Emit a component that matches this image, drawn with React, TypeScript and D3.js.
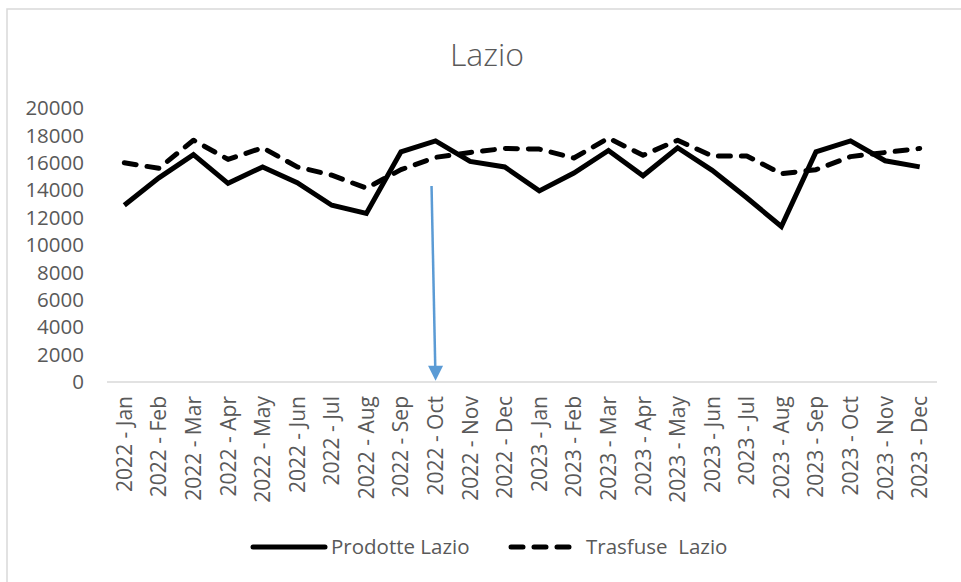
import React, { useEffect, useRef } from 'react';
import * as d3 from 'd3';

// categories (year - month)
const months = ['Jan', 'Feb', 'Mar', 'Apr', 'May', 'Jun', 'Jul', 'Aug', 'Sep', 'Oct', 'Nov', 'Dec'];
const categories = [
  ...months.map(m => `2022 - ${m}`),
  ...months.map(m => `2023 - ${m}`),
];

// Prodotte Lazio (solid)
const prodotte = [
  12900, 14900, 16600, 14500, 15700, 14550, 12900, 12300, 16800, 17600, 16100, 15700,
  13950, 15250, 16900, 15050, 17100, 15450, 13450, 11350, 16800, 17600, 16150, 15700,
];

// Trasfuse Lazio (dashed)
const trasfuse = [
  16000, 15600, 17650, 16250, 17100, 15700, 15100, 14150, 15500, 16400, 16750, 17050,
  17000, 16350, 17800, 16550, 17650, 16500, 16500, 15200, 15500, 16450, 16750, 17050,
];

const yTicks = [0, 2000, 4000, 6000, 8000, 10000, 12000, 14000, 16000, 18000, 20000];

// blue annotation arrow: points at 2022 - Oct
const arrowCategory = '2022 - Oct';
const arrowFrom = 14300;
const arrowTo = 100;

const App = () => {
  const ref = useRef<SVGSVGElement | null>(null);

  useEffect(() => {
    if (!ref.current) return;
    const svg = d3.select(ref.current);
    svg.selectAll('*').remove();

    const width = 961, height = 582;
    const font = "'Open Sans', sans-serif";
    const textColor = '#595959';

    const x = d3.scaleBand().domain(categories).range([107, 937]);
    const y = d3.scaleLinear().domain([0, 20000]).range([382, 108]);
    const cx = (c: string) => (x(c) as number) + x.bandwidth() / 2;

    svg.attr('width', width).attr('height', height);

    // chart frame
    svg.append('rect')
      .attr('x', 7).attr('y', 9)
      .attr('width', width).attr('height', height)
      .attr('fill', '#fff')
      .attr('stroke', '#d9d9d9').attr('stroke-width', 1.5);

    // title
    svg.append('text')
      .attr('x', 487).attr('y', 66)
      .attr('text-anchor', 'middle')
      .attr('font-family', font).attr('font-size', 32).attr('font-weight', 300)
      .attr('fill', textColor)
      .text('Lazio');

    // y axis labels
    svg.append('g')
      .selectAll('text')
      .data(yTicks)
      .enter()
      .append('text')
      .attr('x', 84)
      .attr('y', d => y(d))
      .attr('dy', '0.35em')
      .attr('text-anchor', 'end')
      .attr('font-family', font).attr('font-size', 20.5)
      .attr('fill', textColor)
      .text(d => d);

    // x axis line
    svg.append('line')
      .attr('x1', 107).attr('x2', 937)
      .attr('y1', y(0)).attr('y2', y(0))
      .attr('stroke', '#d9d9d9').attr('stroke-width', 1.5);

    // x labels, rotated
    svg.append('g')
      .selectAll('text')
      .data(categories)
      .enter()
      .append('text')
      .attr('transform', d => `translate(${cx(d) + 7.5},396) rotate(-90)`)
      .attr('text-anchor', 'end')
      .attr('font-family', font).attr('font-size', 21)
      .attr('fill', textColor)
      .text(d => d);

    const line = d3.line<number>()
      .x((_, i) => cx(categories[i]))
      .y(d => y(d));

    svg.append('path')
      .datum(trasfuse)
      .attr('d', line)
      .attr('fill', 'none')
      .attr('stroke', '#000').attr('stroke-width', 5)
      .attr('stroke-dasharray', '12 11')
      .attr('stroke-linecap', 'round')
      .attr('stroke-linejoin', 'round');

    svg.append('path')
      .datum(prodotte)
      .attr('d', line)
      .attr('fill', 'none')
      .attr('stroke', '#000').attr('stroke-width', 5)
      .attr('stroke-linejoin', 'miter');

    // arrow annotation
    const ax = cx(arrowCategory);
    svg.append('line')
      .attr('x1', ax - 4).attr('y1', y(arrowFrom))
      .attr('x2', ax - 0.3).attr('y2', y(arrowTo) - 14)
      .attr('stroke', '#5b9bd5').attr('stroke-width', 2.5);
    svg.append('path')
      .attr('d', `M${ax - 7.5},${y(arrowTo) - 15} L${ax + 7.5},${y(arrowTo) - 15} L${ax},${y(arrowTo)} Z`)
      .attr('fill', '#5b9bd5');

    // legend
    const legend = [
      { label: 'Prodotte Lazio', x1: 253, x2: 325, tx: 331, dash: null },
      { label: 'Trasfuse  Lazio', x1: 511, x2: 574, tx: 586, dash: '12 11' },
    ];
    const lg = svg.append('g');
    legend.forEach(l => {
      lg.append('line')
        .attr('x1', l.x1).attr('x2', l.x2)
        .attr('y1', 547).attr('y2', 547)
        .attr('stroke', '#000').attr('stroke-width', 5)
        .attr('stroke-linecap', 'round')
        .attr('stroke-dasharray', l.dash);
      lg.append('text')
        .attr('x', l.tx).attr('y', 547)
        .attr('dy', '0.35em')
        .attr('font-family', font).attr('font-size', 20.5)
        .attr('fill', textColor)
        .attr('xml:space', 'preserve')
        .style('white-space', 'pre')
        .text(l.label);
    });
  }, []);

  return (
    <svg ref={ref} style={{ position: 'absolute', left: 0, top: 0, display: 'block' }} />
  );
};

export default App;
